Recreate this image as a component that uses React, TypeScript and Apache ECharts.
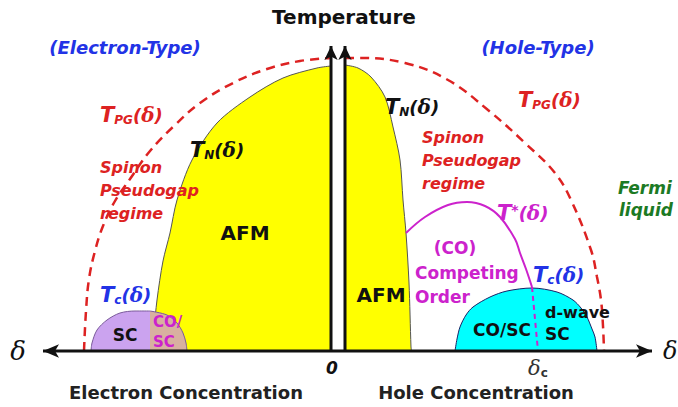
import React, { useEffect, useRef } from 'react';
import * as echarts from 'echarts';

// Diagram data: [x, temperature] in diagram units (x: doping axis position, T: temperature above the δ axis)
const afmElectron = [[153,0],[154,20],[157,51],[163,90],[170,118],[177,151],[192,191],[217,228],[250,254],[283,273],[317,283],[331,285]];
const afmHole = [[345,286],[358,283],[371,274],[385,254],[393,224],[400,191],[403,151],[406,118],[409,68],[411,4],[411.5,0]];
const scElectron = [[91,0],[92,8],[97,21],[107,31],[120,38],[135,40],[150,40]];
const coscElectron = [[150,40],[167,36],[177,28],[183,18],[186,8],[187,0]];
const scHole = [[455,0],[457,12],[460,24],[466,36],[473,44],[490,54],[507,60],[532,63],[557,59],[573,51],[581,43],[587,34],[592,22],[595,14],[597,0]];
const tpgElectron = [[84,0],[86,40],[89,72],[95,100],[103,125],[115,150],[130,172],[150,200],[175,226],[200,248],[233,268],[267,282],[300,290],[331,293]];
const tpgHole = [[345,293],[358,293],[405,288],[448,271],[488,241],[525,208],[555,178],[571,151],[591,101],[597,74],[601,51],[603,25],[604,0]];
const tStar = [[406,118],[425,134],[448,146],[467,149],[485,145],[500,134],[515,112],[520,98],[526,82],[532,64]];
const deltaC = [[532,64],[538,0]];
const axisDelta = [[43,0],[652,0]];
const axisTempLeft = [[331,0],[331,305]];
const axisTempRight = [[345,0],[345,305]];

const RED = '#dd2222';
const BLUE = '#2233e6';
const MAG = '#cc22cc';
const GREEN = '#1c7a24';
const BLK = '#111111';
const SANS = '"DejaVu Sans", sans-serif';
const SERIF = '"DejaVu Serif", serif';

function txt(text: string, x: number, y: number, o: any = {}) {
  return {
    type: 'text', x, y, z: 100, silent: true,
    style: {
      text, fill: o.fill || BLK, fontFamily: o.family || SANS, fontSize: o.size || 16,
      fontWeight: o.weight || 'bold', fontStyle: o.italic ? 'italic' : 'normal',
      align: o.align || 'left', verticalAlign: 'middle',
    },
  };
}

function sym(main: string, sub: string, x: number, y: number, fill: string, sup = false) {
  return {
    type: 'text', x, y, z: 100, silent: true,
    style: {
      text: `{T|${main}}{s|${sub}}{p|(}{d|δ}{p|)}`,
      fill, align: 'left', verticalAlign: 'middle',
      rich: {
        T: { fontSize: 21, fontStyle: 'italic', fontWeight: 'bold', fontFamily: SANS, fill },
        s: { fontSize: sup ? 14 : 12, fontStyle: 'italic', fontWeight: 'bold', fontFamily: SANS, fill, verticalAlign: sup ? 'top' : 'bottom' },
        p: { fontSize: 18, fontStyle: 'italic', fontWeight: 'bold', fontFamily: SANS, fill },
        d: { fontSize: 20, fontStyle: 'italic', fontWeight: 'bold', fontFamily: SERIF, fill },
      },
    },
  };
}

function areaSeries(data: number[][], fill: string, border: string, z: number) {
  return {
    type: 'line', data, symbol: 'none', z, silent: true,
    smooth: 0.3,
    lineStyle: { color: border, width: 1 },
    areaStyle: { color: fill, opacity: 1, origin: 0 },
  };
}

function arrowLine(data: number[][], rot: number, size: number[]) {
  return {
    type: 'line', z: 20, silent: true, showSymbol: true, symbol: 'arrow',
    data: [
      { value: data[0], symbol: rot === 999 ? 'none' : 'arrow', symbolRotate: 90, symbolSize: size },
      { value: data[1], symbol: 'arrow', symbolRotate: rot === 999 ? 0 : -90, symbolSize: size },
    ],
    lineStyle: { color: BLK, width: 3 },
    itemStyle: { color: BLK },
  };
}

export default function App() {
  const ref = useRef<HTMLDivElement>(null);
  useEffect(() => {
    const chart = echarts.init(ref.current!, null, { renderer: 'svg' });
    chart.setOption({
      animation: false,
      backgroundColor: '#ffffff',
      grid: { left: 0, right: 0, top: 0, bottom: 0 },
      xAxis: { type: 'value', min: 0, max: 678, show: false },
      yAxis: { type: 'value', min: -56, max: 351, show: false },
      series: [
        areaSeries(afmElectron, '#ffff00', '#555555', 1),
        areaSeries(afmHole, '#ffff00', '#555555', 1),
        areaSeries(scElectron, '#cba3ef', '#7a5a9a', 2),
        areaSeries(coscElectron, '#d8b0a0', '#7a5a9a', 2),
        areaSeries(scHole, '#00ffff', '#1a2266', 2),
        { type: 'line', data: tpgElectron, symbol: 'none', smooth: 0.4, z: 5, silent: true,
          lineStyle: { color: RED, width: 2.5, type: [9, 6] } },
        { type: 'line', data: tpgHole, symbol: 'none', smooth: 0.4, z: 5, silent: true,
          lineStyle: { color: RED, width: 2.5, type: [9, 6] } },
        { type: 'line', data: tStar, symbol: 'none', smooth: 0.4, z: 5, silent: true,
          lineStyle: { color: MAG, width: 2 } },
        { type: 'line', data: deltaC, symbol: 'none', z: 5, silent: true,
          lineStyle: { color: MAG, width: 2, type: [5, 4] } },
        arrowLine(axisDelta, -90, [10, 16]),
        arrowLine(axisTempLeft, 999, [10, 14]),
        arrowLine(axisTempRight, 999, [10, 14]),
      ],
      graphic: [
        txt('Temperature', 344, 17, { size: 20, align: 'center' }),
        txt('(Electron-Type)', 125, 47, { size: 18, italic: true, fill: BLUE, align: 'center' }),
        txt('(Hole-Type)', 538, 47, { size: 18, italic: true, fill: BLUE, align: 'center' }),
        sym('T', 'PG', 100, 115, RED),
        sym('T', 'PG', 518, 100, RED),
        txt('Spinon', 100, 167, { size: 16, italic: true, fill: RED }),
        txt('Pseudogap', 100, 190, { size: 16, italic: true, fill: RED }),
        txt('regime', 100, 213, { size: 16, italic: true, fill: RED }),
        txt('Spinon', 422, 137, { size: 16, italic: true, fill: RED }),
        txt('Pseudogap', 422, 160, { size: 16, italic: true, fill: RED }),
        txt('regime', 422, 183, { size: 16, italic: true, fill: RED }),
        sym('T', 'N', 190, 150, BLK),
        sym('T', 'N', 385, 107, BLK),
        txt('AFM', 245, 233, { size: 20, align: 'center' }),
        txt('AFM', 381, 295, { size: 20, align: 'center' }),
        sym('T', 'c', 100, 295, BLUE),
        sym('T', 'c', 533, 275, BLUE),
        txt('SC', 125, 335, { size: 17, align: 'center' }),
        txt('CO/', 153, 322, { size: 15, fill: MAG }),
        txt('SC', 153, 342, { size: 15, fill: MAG }),
        sym('T', '*', 497, 213, MAG, true),
        txt('(CO)', 455, 248, { size: 17, fill: MAG, align: 'center' }),
        txt('Competing', 415, 273, { size: 17, fill: MAG }),
        txt('Order', 415, 297, { size: 17, fill: MAG }),
        txt('CO/SC', 473, 330, { size: 17 }),
        txt('d-wave', 545, 312, { size: 16 }),
        txt('SC', 545, 334, { size: 17 }),
        txt('Fermi', 618, 188, { size: 17, italic: true, fill: GREEN }),
        txt('liquid', 619, 210, { size: 17, italic: true, fill: GREEN }),
        txt('δ', 18, 351, { size: 26, italic: true, family: SERIF, weight: 'normal', align: 'center' }),
        txt('δ', 663, 351, { size: 24, italic: true, family: SERIF, weight: 'normal' }),
        txt('0', 332, 368, { size: 17, italic: true, align: 'center' }),
        {
          type: 'text', x: 528, y: 368, z: 100, silent: true,
          style: {
            text: '{d|δ}{c|c}', align: 'left', verticalAlign: 'middle', fill: '#333',
            rich: {
              d: { fontSize: 21, fontStyle: 'italic', fontFamily: SERIF, fill: '#333' },
              c: { fontSize: 12, fontWeight: 'bold', fontFamily: SANS, fill: '#333', verticalAlign: 'bottom' },
            },
          },
        },
        txt('Electron Concentration', 186, 392, { size: 18, fill: '#222', align: 'center' }),
        txt('Hole Concentration', 476, 392, { size: 18, fill: '#222', align: 'center' }),
      ],
    });
    return () => chart.dispose();
  }, []);
  return <div ref={ref} style={{ position: 'fixed', left: 0, top: 0, width: 678, height: 407, background: '#fff' }} />;
}
